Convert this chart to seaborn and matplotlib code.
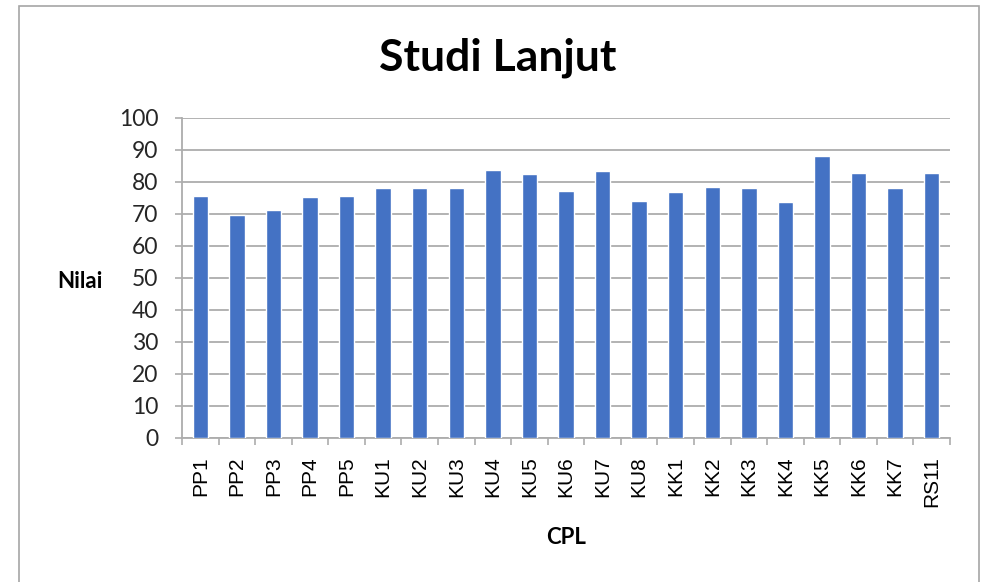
import numpy as np
import pandas as pd
import matplotlib
matplotlib.use("Agg")
import matplotlib.pyplot as plt
import seaborn as sns
from matplotlib.patches import Rectangle

# values
cpl = ["PP1", "PP2", "PP3", "PP4", "PP5", "KU1", "KU2", "KU3", "KU4", "KU5", "KU6",
       "KU7", "KU8", "KK1", "KK2", "KK3", "KK4", "KK5", "KK6", "KK7", "RS11"]
nilai = [75.6, 69.7, 71.3, 75.2, 75.6, 78.0, 78.0, 78.0, 83.6, 82.5, 77.3,
         83.3, 74.0, 76.9, 78.4, 78.0, 73.6, 88.1, 82.9, 78.0, 82.9]
y_ticks = list(range(0, 101, 10))

df = pd.DataFrame({"CPL": cpl, "Nilai": nilai})

sns.set_theme(style="white")
plt.rcParams["font.family"] = ["Lato", "DejaVu Sans"]

W, H = 986, 582
fig = plt.figure(figsize=(W / 100, H / 100), dpi=100)
ax = fig.add_axes([182 / W, 1 - 438 / H, 768 / W, 320 / H])

sns.barplot(data=df, x="CPL", y="Nilai", color="#4472C4", width=0.42,
            saturation=1, ax=ax, zorder=3)

grid_c = "#adadad"
ax.set_ylim(0, 100)
ax.set_xlim(-0.5, len(cpl) - 0.5)
ax.set_yticks(y_ticks)
ax.set_yticklabels([str(v) for v in y_ticks], fontsize=16.5, color="#262626")
ax.yaxis.grid(True, color=grid_c, linewidth=1.3, zorder=0)
ax.tick_params(axis="y", length=5, width=1.2, color=grid_c, pad=12, left=True)

ax.set_xticks(range(len(cpl)))
ax.set_xticklabels(cpl, rotation=90, fontsize=15, family="Liberation Sans", color="#000000")
ax.set_xticks(np.arange(-0.5, len(cpl), 1), minor=True)
ax.tick_params(axis="x", which="major", length=0, pad=13)
ax.tick_params(axis="x", which="minor", length=5, width=1.2, color=grid_c, bottom=True)

for s in ["top", "right"]:
    ax.spines[s].set_visible(False)
for s in ["left", "bottom"]:
    ax.spines[s].set_color(grid_c)
    ax.spines[s].set_linewidth(1.3)
ax.set_xlabel("")
ax.set_ylabel("")

fig.text(498 / W, 1 - 58 / H, "Studi Lanjut", fontsize=32, fontweight="bold",
         ha="center", va="center", color="#000000")
fig.text(80 / W, 1 - 281 / H, "Nilai", fontsize=16, fontweight="bold",
         ha="center", va="center", color="#000000")
fig.text(566 / W, 1 - 537 / H, "CPL", fontsize=16, fontweight="bold",
         ha="center", va="center", color="#000000")

# thin frame around the chart area
fig.patches.append(Rectangle((19 / W, -0.05), 960 / W, 1.05 - 6 / H,
                             transform=fig.transFigure, fill=False,
                             edgecolor="#a6a6a6", linewidth=1.2))

fig.savefig("out.png", dpi=100)
